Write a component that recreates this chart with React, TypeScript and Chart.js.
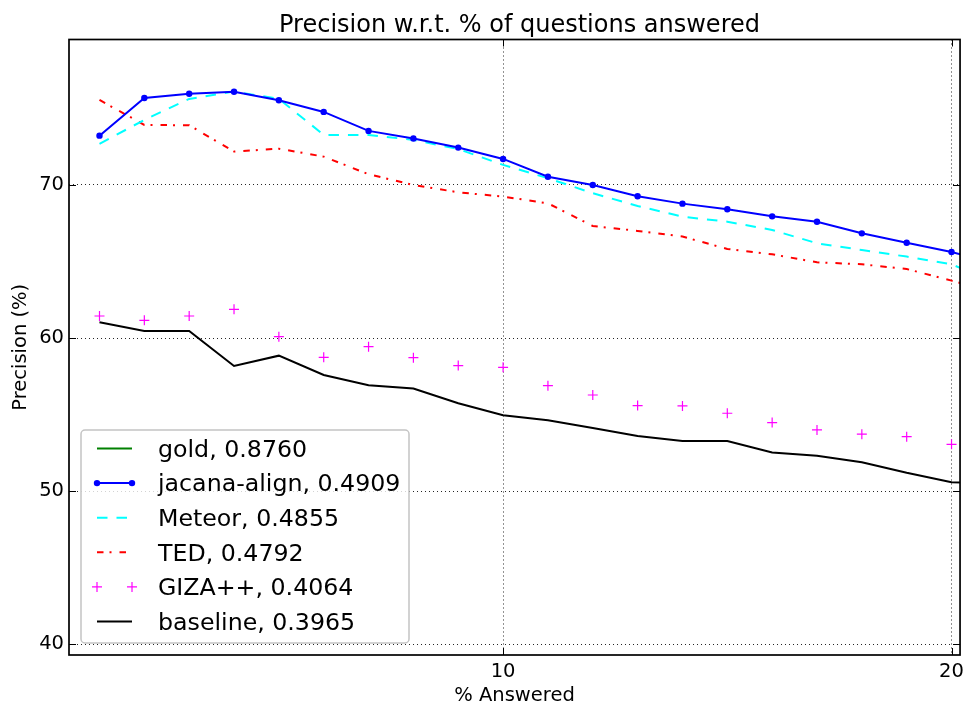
import React, { useEffect, useRef } from 'react';
import { Chart, registerables } from 'chart.js';

Chart.register(...registerables);

// ---- data ----
const xValues = [1, 2, 3, 4, 5, 6, 7, 8, 9, 10, 11, 12, 13, 14, 15, 16, 17, 18, 19, 20, 21];
const gold: number[] = [];
const jacana = [73.22, 75.68, 75.96, 76.09, 75.53, 74.77, 73.53, 73.03, 72.44, 71.70, 70.54, 70.00, 69.26, 68.78, 68.41, 67.95, 67.60, 66.84, 66.23, 65.62, 64.85];
const meteor = [72.68, 74.25, 75.62, 76.10, 75.62, 73.27, 73.27, 72.94, 72.35, 71.31, 70.44, 69.46, 68.63, 67.93, 67.60, 67.06, 66.19, 65.75, 65.32, 64.82, 63.6];
const ted = [75.55, 73.92, 73.90, 72.18, 72.37, 71.85, 70.70, 70.00, 69.52, 69.24, 68.80, 67.32, 67.00, 66.63, 65.82, 65.47, 64.95, 64.82, 64.51, 63.75, 63.0];
const giza = [61.44, 61.16, 61.44, 61.88, 60.09, 58.74, 59.44, 58.72, 58.20, 58.09, 56.89, 56.28, 55.59, 55.57, 55.09, 54.48, 54.00, 53.72, 53.56, 53.06];
const baseline = [61.03, 60.46, 60.46, 58.18, 58.85, 57.59, 56.92, 56.70, 55.74, 54.96, 54.63, 54.13, 53.61, 53.28, 53.28, 52.52, 52.32, 51.89, 51.20, 50.58, 50.55];

const seriesLabels = ['gold, 0.8760', 'jacana-align, 0.4909', 'Meteor, 0.4855', 'TED, 0.4792', 'GIZA++, 0.4064', 'baseline, 0.3965'];
const xTicks = [10, 20];
const yTicks = [40, 50, 60, 70];
const title = 'Precision w.r.t. % of questions answered';
const xTitle = '% Answered';
const yTitle = 'Precision (%)';

const FONT = "'DejaVu Sans', sans-serif";

const pts = (arr: number[]) => arr.map((y, i) => ({ x: xValues[i], y }));

const decorPlugin = {
  id: 'decor',
  afterDraw(chart: any) {
    const ctx = chart.ctx;
    const { left, right, top, bottom } = chart.chartArea;
    const xs = chart.scales.x;
    const ys = chart.scales.y;
    ctx.save();
    // title
    ctx.fillStyle = '#000';
    ctx.font = `24px ${FONT}`;
    ctx.textAlign = 'center';
    ctx.textBaseline = 'alphabetic';
    ctx.fillText(title, (left + right) / 2 + 5, 31.5);

    // inward ticks
    ctx.strokeStyle = '#000';
    ctx.lineWidth = 1;
    const tl = 7;
    ctx.beginPath();
    for (const v of yTicks) {
      const y = Math.round(ys.getPixelForValue(v)) + 0.5;
      ctx.moveTo(left, y); ctx.lineTo(left + tl, y);
      ctx.moveTo(right, y); ctx.lineTo(right - tl, y);
    }
    for (const v of xTicks) {
      const x = Math.round(xs.getPixelForValue(v)) + 0.5;
      ctx.moveTo(x, bottom); ctx.lineTo(x, bottom - tl);
      ctx.moveTo(x, top); ctx.lineTo(x, top + tl);
    }
    ctx.stroke();

    // frame
    ctx.lineWidth = 1.7;
    ctx.strokeRect(left, top, right - left, bottom - top);

    // legend
    const lx = 81, ly = 430, lw = 328, lh = 213;
    ctx.beginPath();
    ctx.roundRect(lx, ly, lw, lh, 4);
    ctx.fillStyle = 'rgba(255,255,255,0.8)';
    ctx.fill();
    ctx.strokeStyle = '#c4c4c4';
    ctx.lineWidth = 1.5;
    ctx.stroke();

    const sx0 = 97, sx1 = 132, tx = 158;
    chart.data.datasets.forEach((ds: any, i: number) => {
      const y = 448.5 + i * 34.6;
      if (ds.showLine !== false) {
        ctx.save();
        ctx.strokeStyle = ds.borderColor;
        ctx.lineWidth = ds.borderWidth;
        ctx.setLineDash(ds.borderDash || []);
        ctx.beginPath();
        ctx.moveTo(sx0, y);
        ctx.lineTo(sx1, y);
        ctx.stroke();
        ctx.restore();
      }
      if (ds.pointRadius > 0) {
        for (const px of [sx0, sx1]) {
          if (ds.pointStyle === 'cross') {
            ctx.save();
            ctx.strokeStyle = ds.pointBorderColor;
            ctx.lineWidth = ds.pointBorderWidth;
            ctx.beginPath();
            ctx.moveTo(px - ds.pointRadius, y); ctx.lineTo(px + ds.pointRadius, y);
            ctx.moveTo(px, y - ds.pointRadius); ctx.lineTo(px, y + ds.pointRadius);
            ctx.stroke();
            ctx.restore();
          } else {
            ctx.beginPath();
            ctx.fillStyle = ds.pointBackgroundColor;
            ctx.arc(px, y, ds.pointRadius, 0, Math.PI * 2);
            ctx.fill();
          }
        }
      }
      ctx.fillStyle = '#000';
      ctx.font = `23.7px ${FONT}`;
      ctx.textAlign = 'left';
      ctx.textBaseline = 'alphabetic';
      ctx.fillText(ds.label, tx, y + 8.3);
    });
    ctx.restore();
  },
};

export default function App() {
  const ref = useRef<HTMLCanvasElement>(null);
  useEffect(() => {
    const canvas = ref.current!;
    const chart = new Chart(canvas, {
      type: 'line',
      data: {
        datasets: [
          { label: seriesLabels[0], data: pts(gold), borderColor: '#008000', backgroundColor: '#008000', borderWidth: 2, pointRadius: 0 },
          { label: seriesLabels[1], data: pts(jacana), borderColor: '#0000ff', backgroundColor: '#0000ff', borderWidth: 2, pointRadius: 3.2, pointBorderWidth: 0, pointBackgroundColor: '#0000ff', pointBorderColor: '#0000ff' },
          { label: seriesLabels[2], data: pts(meteor), borderColor: '#00ffff', backgroundColor: '#00ffff', borderWidth: 2, borderDash: [10.5, 9], pointRadius: 0 },
          { label: seriesLabels[3], data: pts(ted), borderColor: '#ff0000', backgroundColor: '#ff0000', borderWidth: 2, borderDash: [6.5, 6, 2, 8], pointRadius: 0 },
          { label: seriesLabels[4], data: pts(giza), borderColor: '#ff00ff', backgroundColor: '#ff00ff', showLine: false, pointStyle: 'cross', pointRadius: 5, pointBorderWidth: 1.2, pointBorderColor: '#ff00ff' },
          { label: seriesLabels[5], data: pts(baseline), borderColor: '#000000', backgroundColor: '#000000', borderWidth: 2, pointRadius: 0 },
        ] as any,
      },
      options: {
        animation: false,
        responsive: false,
        devicePixelRatio: 1,
        layout: { padding: { top: 39.5, right: 7, left: 0, bottom: 0 } },
        plugins: { legend: { display: false }, title: { display: false }, tooltip: { enabled: false } },
        elements: { line: { tension: 0, borderCapStyle: 'butt' } },
        scales: {
          x: {
            type: 'linear',
            min: 0.32,
            max: 20.19,
            afterBuildTicks: (s: any) => { s.ticks = xTicks.map((v) => ({ value: v })); },
            afterFit: (s: any) => { s.height = 53; },
            grid: { color: 'rgba(0,0,0,0.85)', lineWidth: 1, drawTicks: false },
            border: { display: false, dash: [1, 3] },
            ticks: { color: '#000', font: { family: FONT, size: 19.5 }, padding: 5, maxRotation: 0 },
            title: { display: true, text: xTitle, color: '#000', font: { family: FONT, size: 19.5 }, padding: { top: 0, bottom: 0 } },
          },
          y: {
            type: 'linear',
            min: 39.3,
            max: 79.5,
            afterBuildTicks: (s: any) => { s.ticks = yTicks.map((v) => ({ value: v })); },
            afterFit: (s: any) => { s.width = 69; },
            grid: { color: 'rgba(0,0,0,0.85)', lineWidth: 1, drawTicks: false },
            border: { display: false, dash: [1, 3] },
            ticks: { color: '#000', font: { family: FONT, size: 19.5 }, padding: 5 },
            title: { display: true, text: yTitle, color: '#000', font: { family: FONT, size: 19.5 }, padding: { top: 9, bottom: 0 } },
          },
        },
      } as any,
      plugins: [decorPlugin],
    });
    return () => chart.destroy();
  }, []);
  return (
    <div style={{ position: 'absolute', left: 0, top: 0, width: 969, height: 708, background: '#fff' }}>
      <canvas ref={ref} width={969} height={708} style={{ display: 'block', width: 969, height: 708 }} />
    </div>
  );
}
